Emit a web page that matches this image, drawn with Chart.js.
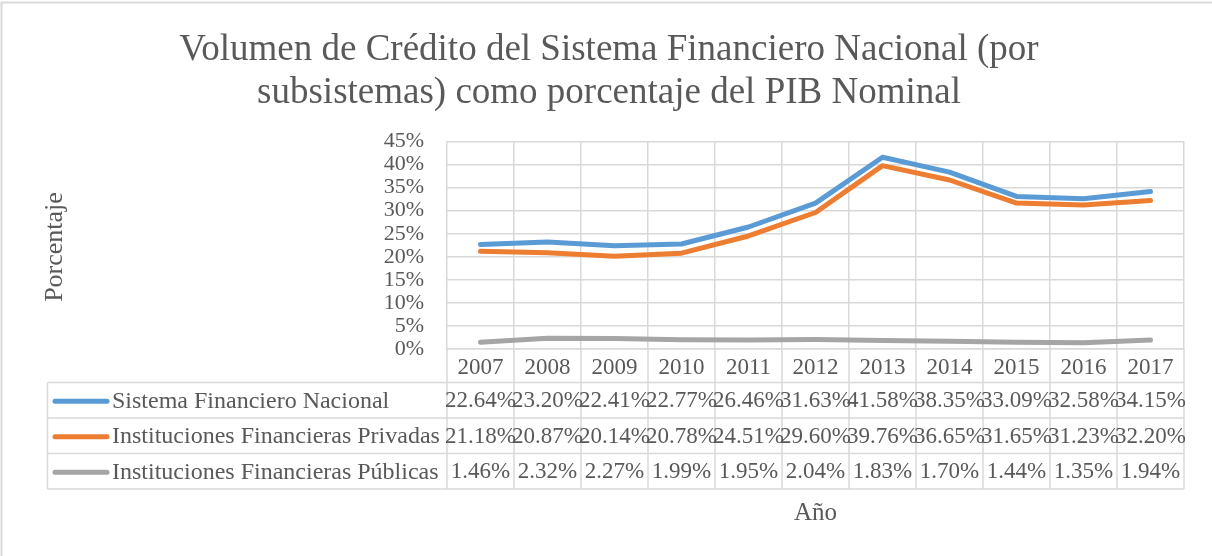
<!DOCTYPE html>
<html lang="es">
<head>
<meta charset="UTF-8">
<title>Volumen de Crédito del Sistema Financiero Nacional</title>
<script src="https://cdn.jsdelivr.net/npm/chart.js@4.4.1/dist/chart.umd.min.js"></script>
<style>
  html, body { margin: 0; padding: 0; background: #fff; }
  #wrap { width: 1212px; height: 556px; position: relative; }
</style>
</head>
<body>
<div id="wrap"><canvas id="chart1" width="1212" height="556"></canvas></div>
<script>
// años (categorías)
const years = ['2007', '2008', '2009', '2010', '2011', '2012', '2013', '2014', '2015', '2016', '2017'];
// series en % del PIB
const sistemaNacional = [22.64, 23.20, 22.41, 22.77, 26.46, 31.63, 41.58, 38.35, 33.09, 32.58, 34.15];
const privadas = [21.18, 20.87, 20.14, 20.78, 24.51, 29.60, 39.76, 36.65, 31.65, 31.23, 32.20];
const publicas = [1.46, 2.32, 2.27, 1.99, 1.95, 2.04, 1.83, 1.70, 1.44, 1.35, 1.94];
const seriesNames = ['Sistema Financiero Nacional', 'Instituciones Financieras Privadas', 'Instituciones Financieras Públicas'];
const titleLines = ['Volumen de Crédito del Sistema Financiero Nacional (por', 'subsistemas) como porcentaje del PIB Nominal'];

const FONT = '"Liberation Serif", "Times New Roman", serif';
const TXT = '#595959';
const GRID = '#D9D9D9';
const colors = ['#5B9BD5', '#ED7D31', '#A5A5A5'];

// tabla de datos + títulos, dibujados a partir de las escalas
const tablePlugin = {
  id: 'tabla',
  afterDraw(chart) {
    const ctx = chart.ctx;
    const x = chart.scales.x;
    const area = chart.chartArea;
    const tableLeft = 47.5;
    const yearRowH = 33.5;
    const rowH = 35.5;
    const n = years.length;
    const colW = (area.right - area.left) / n;
    const bounds = [];
    for (let i = 0; i <= n; i++) bounds.push(area.left + i * colW);
    const top = area.bottom;
    const rowsTop = top + yearRowH;
    const bottom = rowsTop + rowH * 3;

    ctx.save();
    // borde del gráfico
    ctx.strokeStyle = GRID;
    ctx.lineWidth = 2;
    ctx.beginPath();
    ctx.moveTo(1.5, 560); ctx.lineTo(1.5, 2.5); ctx.lineTo(1220, 2.5);
    ctx.stroke();

    ctx.lineWidth = 1.5;
    ctx.beginPath();
    // líneas verticales
    bounds.forEach(b => { ctx.moveTo(b, top); ctx.lineTo(b, bottom); });
    ctx.moveTo(tableLeft, rowsTop); ctx.lineTo(tableLeft, bottom);
    // líneas horizontales
    for (let r = 0; r <= 3; r++) {
      ctx.moveTo(tableLeft, rowsTop + r * rowH);
      ctx.lineTo(area.right, rowsTop + r * rowH);
    }
    ctx.stroke();

    const series = [sistemaNacional, privadas, publicas];
    ctx.fillStyle = TXT;
    ctx.textBaseline = 'middle';
    series.forEach((s, r) => {
      const cy = rowsTop + r * rowH + rowH / 2 + 1;
      // clave de leyenda
      ctx.strokeStyle = colors[r];
      ctx.lineWidth = 5;
      ctx.lineCap = 'round';
      ctx.beginPath();
      ctx.moveTo(55, cy); ctx.lineTo(107, cy);
      ctx.stroke();
      ctx.textAlign = 'left';
      ctx.font = '24px ' + FONT;
      ctx.fillText(seriesNames[r], 112, cy);
      ctx.textAlign = 'center';
      ctx.font = '23px ' + FONT;
      s.forEach((v, i) => {
        ctx.fillText(v.toFixed(2) + '%', x.getPixelForValue(i), cy);
      });
    });

    // títulos
    ctx.textAlign = 'center';
    ctx.textBaseline = 'alphabetic';
    ctx.font = '37px ' + FONT;
    ctx.fillText(titleLines[0], 609, 60);
    ctx.fillText(titleLines[1], 609, 103);
    ctx.textBaseline = 'middle';
    ctx.font = '25px ' + FONT;
    ctx.fillText('Año', (area.left + area.right) / 2, 513);
    ctx.font = '26px ' + FONT;
    ctx.translate(55, 247);
    ctx.rotate(-Math.PI / 2);
    ctx.fillText('Porcentaje', 0, 0);
    ctx.restore();
  }
};

const datasets = [sistemaNacional, privadas, publicas].map((d, i) => ({
  label: seriesNames[i],
  data: d,
  borderColor: colors[i],
  backgroundColor: colors[i],
  borderWidth: 5,
  pointRadius: 0,
  borderCapStyle: 'round',
  borderJoinStyle: 'round',
  tension: 0
}));

new Chart(document.getElementById('chart1'), {
  type: 'line',
  data: { labels: years, datasets: datasets },
  plugins: [tablePlugin],
  options: {
    responsive: false,
    animation: false,
    layout: { padding: { left: 0, right: 28, top: 141.5, bottom: 0 } },
    plugins: {
      legend: { display: false },
      title: { display: false },
      tooltip: { enabled: false }
    },
    scales: {
      x: {
        offset: true,
        grid: { offset: true, color: GRID, lineWidth: 1.5, drawTicks: false },
        border: { color: GRID, width: 1.5 },
        ticks: { color: TXT, font: { family: FONT, size: 23 }, padding: 5, maxRotation: 0, autoSkip: false },
        afterFit(s) { s.height = 556 - 141.5 - 207.5; }
      },
      y: {
        min: 0,
        max: 45,
        grid: { color: GRID, lineWidth: 1.5, drawTicks: false },
        border: { display: false },
        ticks: {
          stepSize: 5,
          autoSkip: false,
          color: TXT,
          font: { family: FONT, size: 22 },
          padding: 23,
          callback: v => v + '%'
        },
        afterFit(s) { s.width = 447; }
      }
    }
  }
});
</script>
</body>
</html>
